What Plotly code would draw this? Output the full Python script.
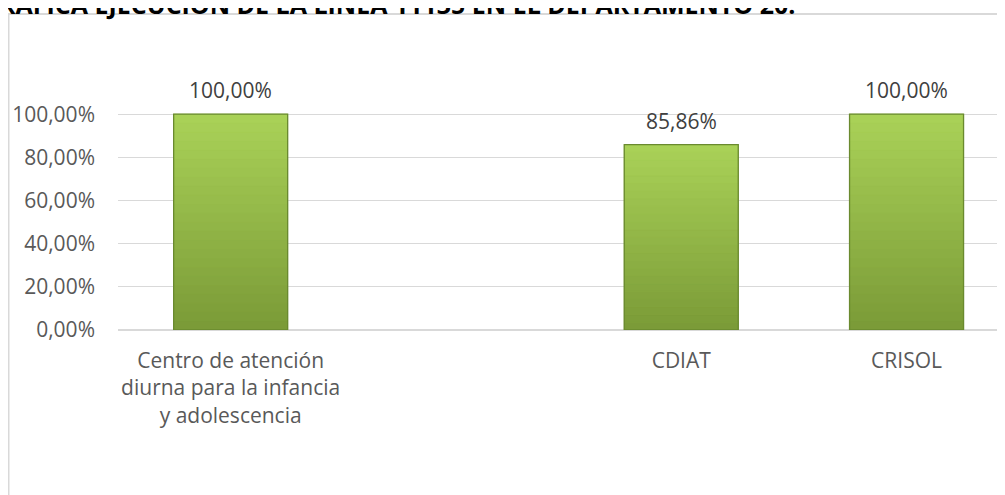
import plotly.graph_objects as go

categories = ["Centro de atención<br>diurna para la infancia<br>y adolescencia", " ", "CDIAT", "CRISOL"]
values = [1.0, None, 0.8586, 1.0]
label_texts = ["100,00%", "", "85,86%", "100,00%"]
tick_vals = [0, 0.2, 0.4, 0.6, 0.8, 1.0]
title_text = "GRAFICA EJECUCION DE LA LINEA 11135 EN EL DEPARTAMENTO 20."

# figure is placed at (8, 8) in the page by the default body margin
W, H = 1005, 495
ML, MT, MB = 110, 63, 173
plot_w = W - ML
plot_h = H - MT - MB
px_per_cat = 225.3
FS = 21

top_rgb = (170, 210, 88)
bot_rgb = (122, 154, 55)
n_seg = 24
bar_w = 0.506

fig = go.Figure()
mid = tuple((top_rgb[j] + bot_rgb[j]) // 2 for j in range(3))
fig.add_trace(go.Bar(
    x=categories, y=values, width=bar_w,
    marker=dict(color="rgb(%d,%d,%d)" % mid, line=dict(width=0)),
    hoverinfo="skip", showlegend=False,
))
for i in range(n_seg):
    k0 = i / n_seg
    k1 = (i + 1) / n_seg
    t = (i + 0.5) / n_seg
    c = "rgb(%d,%d,%d)" % tuple(int(round(bot_rgb[j] + (top_rgb[j] - bot_rgb[j]) * t)) for j in range(3))
    bases = [v * k0 if v is not None else None for v in values]
    heights = [v * (k1 - k0) if v is not None else None for v in values]
    fig.add_trace(go.Bar(
        x=categories, y=heights, base=bases, width=bar_w,
        marker=dict(color=c, line=dict(width=0.6, color=c)),
        hoverinfo="skip", showlegend=False,
    ))
# outline
fig.add_trace(go.Bar(
    x=categories, y=values, width=bar_w,
    marker=dict(color="rgba(0,0,0,0)", line=dict(color="#6a8a2f", width=1.3)),
    showlegend=False,
))

for cat, v, txt in zip(categories, values, label_texts):
    if v is None:
        continue
    fig.add_annotation(x=cat, y=v, text=txt, showarrow=False, yanchor="bottom",
                       yshift=8, font=dict(family="Open Sans", size=FS, color="#404040"))

# title (partially cut at top, as in the reference)
fig.add_annotation(xref="paper", yref="paper", x=(789 - ML) / plot_w, y=(H - MB - 15.5) / plot_h,
                   xanchor="right", yanchor="bottom", text="<b>" + title_text + "</b>",
                   showarrow=False, font=dict(family="Open Sans", size=25, color="#000000"))

# chart frame
fig.add_shape(type="rect", xref="paper", yref="paper", layer="below",
              x0=(0.5 - ML) / plot_w, x1=1.1, y0=-1.0, y1=(H - MB - 6) / plot_h,
              line=dict(color="#d9d9d9", width=2), fillcolor="rgba(0,0,0,0)")

fig.update_layout(
    width=W, height=H,
    margin=dict(l=ML, r=0, t=MT, b=MB, pad=0),
    paper_bgcolor="white", plot_bgcolor="white",
    barmode="overlay", separators=",.",
    showlegend=False,
    font=dict(family="Open Sans", size=FS, color="#595959"),
    xaxis=dict(type="category", range=[-0.5, -0.5 + plot_w / px_per_cat], showgrid=False,
               showline=False, ticks="", ticklabelstandoff=16,
               tickfont=dict(size=FS, color="#595959"), fixedrange=True),
    yaxis=dict(range=[0, 1.2], tickvals=tick_vals, tickformat=".2%",
               showgrid=True, gridcolor="#d9d9d9", gridwidth=1.3,
               zeroline=True, zerolinecolor="#d9d9d9", zerolinewidth=1.5,
               showline=False, ticks="", ticklabelstandoff=22,
               tickfont=dict(size=FS, color="#595959"), fixedrange=True),
)

fig.write_html("out.html", config={"displayModeBar": False})
